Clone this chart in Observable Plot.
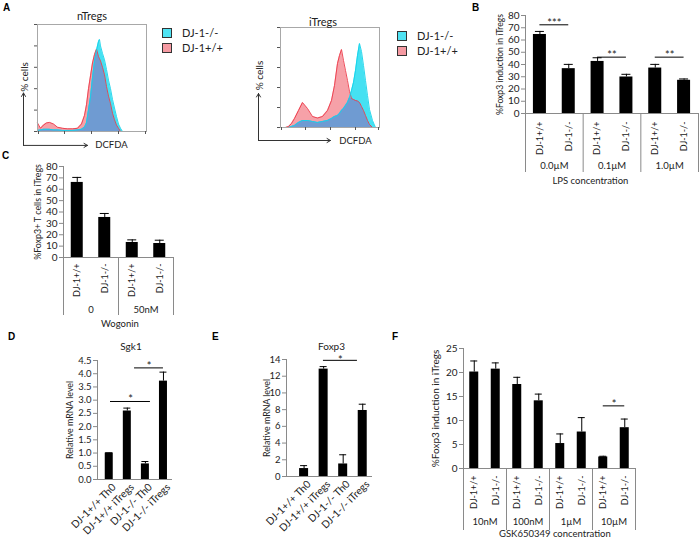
<!DOCTYPE html>
<html><head><meta charset="utf-8">
<script src="https://cdn.jsdelivr.net/npm/d3@7"></script>
<script src="https://cdn.jsdelivr.net/npm/@observablehq/plot@0.6"></script>
<style>
html,body{margin:0;padding:0;background:#fff;}
#fig{position:relative;width:700px;height:540px;overflow:hidden;font-family:Lato,"Open Sans",sans-serif;color:#222;}
.pane{position:absolute;}
.pane svg{overflow:visible;}
.letter{position:absolute;font:bold 10px "Liberation Sans",Arial,sans-serif;color:#000;}
.leg{position:absolute;font-size:11px;line-height:12px;white-space:nowrap;color:#222;}
.sw{position:absolute;width:8px;height:8px;border:1px solid #333;}
</style></head>
<body><div id="fig"></div>
<script>
// ---------- Panel A data: DCFDA histograms (% of max) ----------
const legendLabels = ["DJ-1-/-", "DJ-1+/+"];
const nChannel = [0,3,6,9,12,16,20,25,30,35,40,44,47,49,51,53,55,57,59,61,62,63,65,67,69,71,73,75,77,79,81,83,85,88];
const nWT = [8,3,6,8,8.5,7,4,3,2.5,2.5,3,7,15,25,40,52,64,72,77,70,68,66,60,53,42,33,26,17,11,6,3,0,0,0];
const nKO = [1,1.5,2,2,2,1.5,1.5,1,1,1,1.5,2,4,8,20,32,50,66,76,84,86,80,73,67,58,48,40,30,22,14,7,3,0,0];
const iChannel = [0,5,8,11,14,18,22,27,32,37,42,47,51,54,57,59,61,63,65,67,69,71,73,75,77,79,81,83,85,87,89,92,95];
const iWT = [0,0,1,4,9,17,25,19,11,9.5,11,17,27,42,64,72,78,67,57,47,36,29,28,27,26.5,25,21,17,12,7,3,0,0];
const iKO = [0,0,0,1,2,5,7,7,6,5,6,7,9,11,12,14,17,19,22,25,30,37,45,57,72,84,76,62,47,32,18,7,0];

// ---------- Panel B ----------
const bLabels = ["DJ-1+/+","DJ-1-/-","DJ-1+/+","DJ-1-/-","DJ-1+/+","DJ-1-/-"];
const bGroups = ["0.0µM","0.1µM","1.0µM"];
const bValues = [64.5,36.6,42.5,29.8,37.1,27.1];
const bErrors = [2.5,3.5,3,2.2,3,1.1];
const bTicks = [0,10,20,30,40,50,60,70,80];
const bSig = [{x1:0.5,x2:1.5,y:72.4,stars:"***"},{x1:2.5,x2:3.5,y:46,stars:"**"},{x1:4.5,x2:5.5,y:46,stars:"**"}];

// ---------- Panel C ----------
const cLabels = ["DJ-1+/+","DJ-1-/-","DJ-1+/+","DJ-1-/-"];
const cGroups = ["0","50nM"];
const cValues = [66,35.2,13.2,12.3];
const cErrors = [4.4,3.5,2.3,2.9];
const cTicks = [0,10,20,30,40,50,60,70,80];

// ---------- Panel D ----------
const dLabels = ["DJ-1+/+ Th0","DJ-1+/+ iTregs","DJ-1-/- Th0","DJ-1-/- iTregs"];
const dValues = [1.0,2.59,0.59,3.72];
const dErrors = [0.01,0.11,0.09,0.34];
const dTicks = [0,0.5,1,1.5,2,2.5,3,3.5,4,4.5];
const dSig = [{x1:0.57,x2:2.78,y:2.95,stars:"*"},{x1:1.9,x2:3.5,y:4.22,stars:"*"}];

// ---------- Panel E ----------
const eLabels = ["DJ-1+/+ Th0","DJ-1+/+ iTregs","DJ-1-/- Th0","DJ-1-/- iTregs"];
const eValues = [0.95,12.85,1.5,7.9];
const eErrors = [0.35,0.3,1.1,0.75];
const eTicks = [0,2,4,6,8,10,12,14];
const eSig = [{x1:1.49,x2:3.23,y:13.9,stars:"*"}];

// ---------- Panel F ----------
const fLabels = ["DJ-1+/+","DJ-1-/-","DJ-1+/+","DJ-1-/-","DJ-1+/+","DJ-1-/-","DJ-1+/+","DJ-1-/-"];
const fGroups = ["10nM","100nM","1µM","10µM"];
const fValues = [20.1,20.7,17.5,14.1,5.2,7.6,2.4,8.5];
const fErrors = [2.3,1.3,1.5,1.4,2.0,3.0,0.15,1.8];
const fTicks = [0,5,10,15,20,25];
const fSig = [{x1:6.5,x2:7.5,y:13.05,stars:"*"}];

// ================= drawing =================
const FONT = "Lato, 'Open Sans', sans-serif";
const AX = "#8a8a8a";
const fig = document.getElementById("fig");

function place(node, left, top){
  const d = document.createElement("div");
  d.className = "pane"; d.style.left = left+"px"; d.style.top = top+"px";
  d.appendChild(node); fig.appendChild(d);
}
function html(cls, text, left, top, extra){
  const d = document.createElement("div");
  d.className = cls; d.textContent = text;
  d.style.left = left+"px"; d.style.top = top+"px";
  if (extra) Object.assign(d.style, extra);
  fig.appendChild(d);
}

function hist(o){
  const rows = o.channel.map((c,k)=>({c, wt:o.wt[k], ko:o.ko[k], both:Math.min(o.wt[k], o.ko[k])}));
  return Plot.plot({
    width:o.mL+o.plotW+o.mR, height:o.mT+o.plotH+o.mB,
    marginLeft:o.mL, marginRight:o.mR, marginTop:o.mT, marginBottom:o.mB,
    style:{background:"none", fontFamily:FONT, overflow:"visible", color:"#222"},
    x:{domain:[0,o.plotW], axis:null}, y:{domain:[0,100], axis:null},
    marks:[
      Plot.areaY(rows,{x:"c",y:"wt",fill:"#f6a1a8"}),
      Plot.areaY(rows,{x:"c",y:"ko",fill:"#45e1f2"}),
      Plot.areaY(rows,{x:"c",y:"both",fill:"#6f9bd2"}),
      Plot.lineY(rows,{x:"c",y:"wt",stroke:"#ec3a4a",strokeWidth:0.9}),
      Plot.lineY(rows,{x:"c",y:"ko",stroke:"#12d2ea",strokeWidth:0.9}),
      Plot.frame({stroke:"#a8a8a8"}),
      Plot.axisY({ticks:[0,20,40,60,80,100], tickSize:3, tickFormat:()=>"", stroke:"#555"}),
      Plot.axisX({ticks:o.decades, tickSize:3, tickFormat:()=>"", stroke:"#555"}),
      Plot.arrow(o.arrows,{x1:"x1",y1:"y1",x2:"x2",y2:"y2",stroke:"#333",strokeWidth:1,headLength:6}),
      Plot.text(["% cells"],{x:o.arrows[0].x1,y:o.cellsY,rotate:-90,dx:1,fontSize:10}),
      Plot.text(["DCFDA"],{x:o.dcfdaX,y:o.arrows[0].y1,fontSize:9.5}),
      Plot.text([o.title],{frameAnchor:"top",dy:o.titleDy,dx:o.titleDx||0,fontSize:11})
    ]
  });
}

function bars(o){
  const rows = o.labels.map((label,i)=>({i,label,value:o.values[i],err:o.errors[i]}));
  const [x0,x1] = o.xDomain;
  const ppx = o.plotW/(x1-x0);
  const ppy = o.plotH/(o.yDomain[1]-o.yDomain[0]);
  const hb = o.barPx/2/ppx, hc = o.capPx/2/ppx;
  const cx = d=>d.i+0.5;
  const marks = [
    Plot.rectY(rows,{x1:d=>cx(d)-hb,x2:d=>cx(d)+hb,y:"value",fill:"#000"}),
    Plot.ruleX(rows,{x:cx,y1:"value",y2:d=>d.value+d.err,stroke:"#000"}),
    Plot.ruleY(rows,{x1:d=>cx(d)-hc,x2:d=>cx(d)+hc,y:d=>d.value+d.err,stroke:"#000"}),
    Plot.ruleY([0],{stroke:AX}),
    Plot.ruleX([x0],{stroke:AX}),
    Plot.axisY({ticks:o.yTicks,tickSize:4,tickPadding:2,stroke:AX,fontSize:o.font,label:null}),
    Plot.text([o.yLabel],{frameAnchor:"left",textAnchor:"middle",lineAnchor:"middle",rotate:-90,dx:-o.labelOffset,fontSize:o.yLabelFont}),
    Plot.text(rows,{x:cx,y:0,text:"label",rotate:o.rotate,textAnchor:"end",dx:o.labDx,dy:o.labDy,fontSize:o.labFont})
  ];
  if (o.groups){
    const size = o.labels.length/o.groups.length;
    const bounds = d3.range(o.groups.length+1).map(k=>k*size);
    marks.push(Plot.ruleX(bounds,{y1:0,y2:-o.divPx/ppy,stroke:AX}));
    marks.push(Plot.text(o.groups,{x:(d,k)=>k*size+size/2,y:0,dy:o.groupDy,text:d=>d,fontSize:o.labFont+0.5}));
    marks.push(Plot.text([o.groupTitle],{x:o.groupTitleX,y:0,dy:o.groupTitleDy,fontSize:o.labFont+0.5}));
  }
  if (o.sig){
    marks.push(Plot.ruleY(o.sig,{x1:"x1",x2:"x2",y:"y",stroke:"#000"}));
    marks.push(Plot.text(o.sig,{x:d=>(d.x1+d.x2)/2,y:"y",text:"stars",dy:o.starDy ?? 2,lineAnchor:"bottom",fontSize:11}));
  }
  if (o.title) marks.push(Plot.text([o.title],{frameAnchor:"top",dy:o.titleDy,dx:o.titleDx||0,fontSize:10}));
  return Plot.plot({
    width:o.mL+o.plotW+o.mR, height:o.mT+o.plotH+o.mB,
    marginLeft:o.mL, marginRight:o.mR, marginTop:o.mT, marginBottom:o.mB,
    style:{background:"none", fontFamily:FONT, overflow:"visible", color:"#222"},
    x:{domain:o.xDomain, axis:null}, y:{domain:o.yDomain},
    marks
  });
}

// Panel A
place(hist({channel:nChannel, wt:nWT, ko:nKO, title:"nTregs", mL:37, mT:24, plotW:109, plotH:107, mR:6, mB:25,
  decades:[1,27,54,81,108], titleDy:-12,
  arrows:[{x1:-14,y1:-13,x2:-14,y2:36},{x1:-14,y1:-13,x2:50,y2:-13}], cellsY:51, dcfdaX:74}), 0, 0);
place(hist({channel:iChannel, wt:iWT, ko:iKO, title:"iTregs", mL:40, mT:27, plotW:99, plotH:100, mR:6, mB:25,
  decades:[1,25,50,75,98], titleDy:-9, titleDx:-7,
  arrows:[{x1:-22,y1:-13,x2:-22,y2:34},{x1:-22,y1:-13,x2:50,y2:-13}], cellsY:52, dcfdaX:75}), 240, 0);
// legends (HTML)
function legend(left, top){
  const colors = ["#4fe3f3","#f59aa2"];
  legendLabels.forEach((t,k)=>{
    html("sw","",left, top+k*15, {background:colors[k]});
    html("leg",t,left+20, top+k*15-1);
  });
}
legend(162, 28);
legend(397, 31);

// Panel B
place(bars({labels:bLabels, values:bValues, errors:bErrors, yTicks:bTicks, yDomain:[0,80], xDomain:[0,6],
  mL:55, mT:15, plotW:173, plotH:98, mR:2, mB:75, barPx:13, capPx:9, font:10,
  yLabel:"%Foxp3 induction in iTregs", labelOffset:25, yLabelFont:8.6,
  rotate:-90, labDx:0, labDy:8, labFont:9,
  groups:bGroups, groupTitle:"LPS concentration", groupTitleX:2.25, divPx:59, groupDy:52, groupTitleDy:67,
  sig:bSig}), 470, 0);

// Panel C
place(bars({labels:cLabels, values:cValues, errors:cErrors, yTicks:cTicks, yDomain:[0,80], xDomain:[0,4],
  mL:63, mT:16, plotW:110, plotH:91, mR:40, mB:80, barPx:12, capPx:9, font:10,
  yLabel:"%Foxp3+ T cells in iTregs", labelOffset:25, yLabelFont:8.8,
  rotate:-90, labDx:0, labDy:6, labFont:9,
  groups:cGroups, groupTitle:"Wogonin", groupTitleX:2.05, divPx:58, groupDy:52, groupTitleDy:66}), 0, 150);

// Panel D
place(bars({labels:dLabels, values:dValues, errors:dErrors, yTicks:dTicks, yDomain:[0,4.5], xDomain:[-0.15,4],
  mL:97, mT:30, plotW:75, plotH:119, mR:28, mB:61, barPx:8, capPx:7, font:9.5,
  yLabel:"Relative mRNA level", labelOffset:27, yLabelFont:8.8,
  rotate:-45, labDx:5, labDy:6, labFont:10.3,
  sig:dSig, title:"Sgk1", titleDy:-18, titleDx:-4}), 0, 330);

// Panel E
place(bars({labels:eLabels, values:eValues, errors:eErrors, yTicks:eTicks, yDomain:[0,14], xDomain:[-0.4,4],
  mL:96, mT:29, plotW:86, plotH:117, mR:14, mB:64, barPx:9, capPx:7, font:9.5,
  yLabel:"Relative mRNA level", labelOffset:19, yLabelFont:8.8,
  rotate:-45, labDx:5, labDy:6, labFont:10.3,
  sig:eSig, starDy:4, title:"Foxp3", titleDy:-17, titleDx:2}), 190, 330);

// Panel F
place(bars({labels:fLabels, values:fValues, errors:fErrors, yTicks:fTicks, yDomain:[0,25], xDomain:[0,8],
  mL:83, mT:18, plotW:172, plotH:120, mR:65, mB:72, barPx:9, capPx:7, font:10,
  yLabel:"%Foxp3 induction in iTregs", labelOffset:28, yLabelFont:10,
  rotate:-90, labDx:0, labDy:7, labFont:9,
  groups:fGroups, groupTitle:"GSK650349 concentration", groupTitleX:4.25, divPx:62, groupDy:53, groupTitleDy:65,
  sig:fSig}), 380, 330);

// panel letters
[["A",3,2],["B",472,2],["C",2,150],["D",8,331],["E",212,331],["F",392,331]].forEach(([t,x,y])=>html("letter",t,x,y));
</script>
</body></html>
